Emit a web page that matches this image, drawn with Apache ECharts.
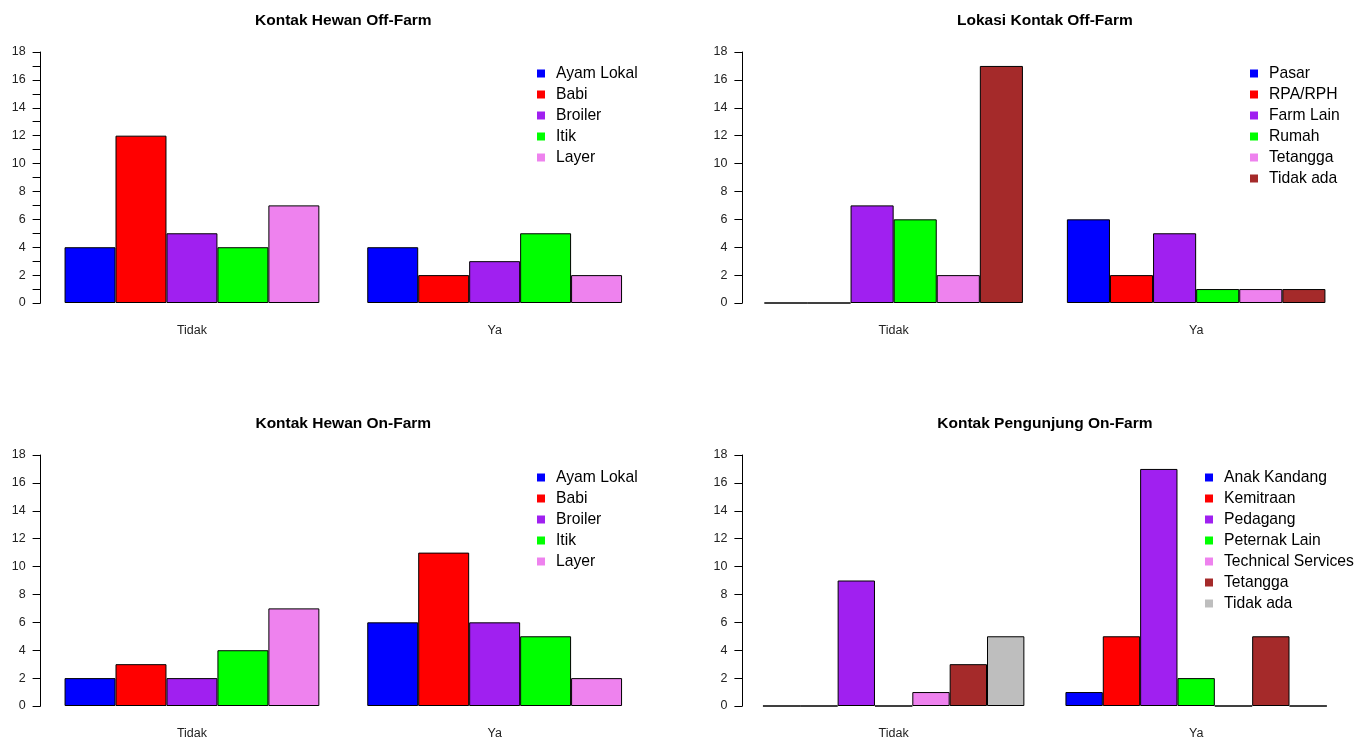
<!DOCTYPE html>
<html>
<head>
<meta charset="utf-8">
<script src="https://cdn.jsdelivr.net/npm/echarts@6/dist/echarts.min.js"></script>
<style>
  html, body { margin: 0; padding: 0; background: #ffffff; }
  #chart { width: 1358px; height: 740px; }
</style>
</head>
<body>
<div id="chart"></div>
<script>
// Shared categories and value axis ticks
const categories = ['Tidak', 'Ya'];
const yTicks = [0, 2, 4, 6, 8, 10, 12, 14, 16, 18];

// Kontak Hewan Off-Farm
const offFarmAnimalNames = ['Ayam Lokal', 'Babi', 'Broiler', 'Itik', 'Layer'];
const offFarmAnimalValues = [[4, 4], [12, 2], [5, 3], [4, 5], [7, 2]];

// Lokasi Kontak Off-Farm
const offFarmPlaceNames = ['Pasar', 'RPA/RPH', 'Farm Lain', 'Rumah', 'Tetangga', 'Tidak ada'];
const offFarmPlaceValues = [[0, 6], [0, 2], [7, 5], [6, 1], [2, 1], [17, 1]];

// Kontak Hewan On-Farm
const onFarmAnimalNames = ['Ayam Lokal', 'Babi', 'Broiler', 'Itik', 'Layer'];
const onFarmAnimalValues = [[2, 6], [3, 11], [2, 6], [4, 5], [7, 2]];

// Kontak Pengunjung On-Farm
const visitorNames = ['Anak Kandang', 'Kemitraan', 'Pedagang', 'Peternak Lain', 'Technical Services', 'Tetangga', 'Tidak ada'];
const visitorValues = [[0, 1], [0, 5], [9, 17], [0, 2], [1, 0], [3, 5], [5, 0]];

const palette = ['#0000FF', '#FF0000', '#A020F0', '#00FF00', '#EE82EE', '#A52A2A', '#BEBEBE'];

const FONT = 'Liberation Sans, Arial, sans-serif';

const panels = [
  { key: 'p1', title: 'Kontak Hewan Off-Farm', names: offFarmAnimalNames, values: offFarmAnimalValues,
    left: 40.6, top: 52, width: 605.4, legendLeft: 537, legendTop: 63, minor: true },
  { key: 'p2', title: 'Lokasi Kontak Off-Farm', names: offFarmPlaceNames, values: offFarmPlaceValues,
    left: 742.4, top: 52, width: 605, legendLeft: 1250, legendTop: 63, minor: false },
  { key: 'p3', title: 'Kontak Hewan On-Farm', names: onFarmAnimalNames, values: onFarmAnimalValues,
    left: 40.6, top: 455, width: 605.4, legendLeft: 537, legendTop: 467, minor: false },
  { key: 'p4', title: 'Kontak Pengunjung On-Farm', names: visitorNames, values: visitorValues,
    left: 742.4, top: 455, width: 605, legendLeft: 1205, legendTop: 467, minor: false }
];
const plotHeight = 251;

const option = {
  animation: false,
  backgroundColor: '#ffffff',
  textStyle: { fontFamily: FONT },
  title: [], grid: [], xAxis: [], yAxis: [], legend: [], series: []
};

panels.forEach((p, i) => {
  const n = p.names.length;
  // each group is n bars wide, groups separated by one bar, x range padded by 4%
  const catGap = (1 - n / ((2 * n + 1) * 0.54)) * 100;

  option.title.push({
    text: p.title,
    left: p.left + p.width / 2,
    top: p.top - 39,
    padding: 0,
    textAlign: 'center',
    textStyle: { fontFamily: FONT, fontWeight: 'bold', fontSize: 15.5, color: '#000' }
  });
  option.grid.push({ left: p.left, top: p.top, width: p.width, height: plotHeight, containLabel: false });
  option.xAxis.push({
    type: 'category', gridIndex: i, data: categories,
    axisLine: { show: false }, axisTick: { show: false },
    axisLabel: { fontSize: 12.5, color: '#222', margin: 21, fontFamily: FONT }
  });
  option.yAxis.push({
    type: 'value', gridIndex: i, min: yTicks[0], max: yTicks[yTicks.length - 1], interval: 2,
    splitLine: { show: false },
    axisLine: { show: true, lineStyle: { color: '#000', width: 1 } },
    axisTick: { show: true, length: 8, lineStyle: { color: '#000', width: 1 } },
    minorTick: { show: p.minor, splitNumber: 2, length: 8, lineStyle: { color: '#000', width: 1 } },
    axisLabel: { fontSize: 12.5, color: '#222', margin: 15, fontFamily: FONT }
  });
  const legendData = [];
  p.names.forEach((name, j) => {
    const id = p.key + '|' + name;
    legendData.push(id);
    option.series.push({
      type: 'bar', name: id, xAxisIndex: i, yAxisIndex: i,
      data: p.values[j],
      barGap: '0%', barCategoryGap: catGap + '%',
      itemStyle: { color: palette[j], borderColor: '#000', borderWidth: 1 },
      emphasis: { disabled: true }
    });
  });
  option.legend.push({
    data: legendData, orient: 'vertical', left: p.legendLeft, top: p.legendTop,
    icon: 'rect', itemWidth: 8, itemHeight: 8, itemGap: 0, padding: 0,
    itemStyle: { borderWidth: 0 },
    selectedMode: false,
    formatter: (name) => name.split('|')[1],
    textStyle: { fontFamily: FONT, fontSize: 15.7, color: '#000', lineHeight: 21, padding: [0, 0, 0, 6] }
  });
});

const chart = echarts.init(document.getElementById('chart'), null, { renderer: 'canvas' });
chart.setOption(option);
</script>
</body>
</html>
